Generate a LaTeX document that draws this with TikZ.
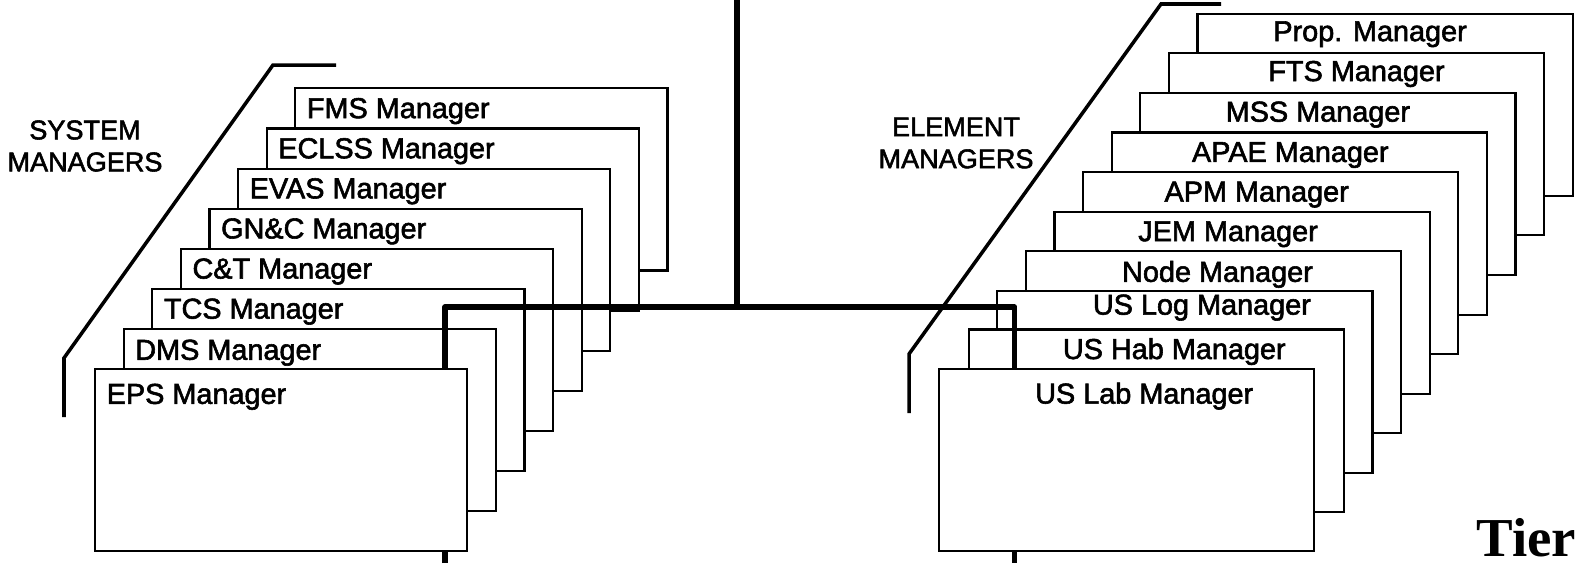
\documentclass[tikz,border=0pt]{standalone}
\usepackage{fontspec}
\newfontfamily\mgrsans[FakeBold=2]{Liberation Sans}
\newfontfamily\tierserif{Liberation Serif}
\usetikzlibrary{positioning}
\tikzset{
  mgrbox/.style={draw, line width=0.6pt, fill=white, anchor=north west,
    inner sep=0pt, minimum height=1.82cm},
  sysbox/.style={mgrbox, minimum width=3.72cm},
  elembox/.style={mgrbox, minimum width=3.75cm},
  mgrtext/.style={inner sep=0pt, font=\mgrsans\fontsize{8.2}{9.1}\selectfont},
  grouptext/.style={inner sep=0pt, align=center, font=\mgrsans\fontsize{7.7}{9.1}\selectfont},
  bracket/.style={line width=1pt, line join=miter},
  bus/.style={line width=1.6pt, line join=round}
}
\begin{document}
\begin{tikzpicture}[x=0.01cm, y=-0.01cm]
  \useasboundingbox (0,0) rectangle (1577,563);
  % system managers, back to front
  \node[sysbox] (fms) at (294.2,87.3) {};
  \node[mgrtext, below right=0.10cm and 0.12cm of fms.north west] (fmst) {FMS Manager};
  \node[sysbox] (eclss) at (265.6,127.4) {};
  \node[mgrtext, below right=0.10cm and 0.12cm of eclss.north west] (eclsst) {ECLSS Manager};
  \node[sysbox] (evas) at (237,167.5) {};
  \node[mgrtext, below right=0.10cm and 0.12cm of evas.north west] (evast) {EVAS Manager};
  \node[sysbox] (gnc) at (208.4,207.6) {};
  \node[mgrtext, below right=0.10cm and 0.12cm of gnc.north west] (gnct) {GN\&C Manager};
  \node[sysbox] (ct) at (179.8,247.7) {};
  \node[mgrtext, below right=0.10cm and 0.12cm of ct.north west] (ctt) {C\&T Manager};
  \node[sysbox] (tcs) at (151.2,287.8) {};
  \node[mgrtext, below right=0.10cm and 0.12cm of tcs.north west] (tcst) {TCS Manager};
  \node[sysbox] (dms) at (122.6,327.9) {};
  \node[mgrtext, below right=0.11cm and 0.12cm of dms.north west] (dmst) {DMS Manager};
  % element managers, back to front
  \node[elembox] (prop) at (1196.4,12.6) {};
  \node[mgrtext, below=0.08cm of prop.north, xshift=-0.15cm] (propt) {Prop. Manager};
  \node[elembox] (fts) at (1167.8,52.2) {};
  \node[mgrtext, below=0.08cm of fts.north] (ftst) {FTS Manager};
  \node[elembox] (mss) at (1139.2,91.8) {};
  \node[mgrtext, below=0.09cm of mss.north, xshift=-0.10cm] (msst) {MSS Manager};
  \node[elembox] (apae) at (1110.6,131.4) {};
  \node[mgrtext, below=0.10cm of apae.north, xshift=-0.09cm] (apaet) {APAE Manager};
  \node[elembox] (apm) at (1082,171) {};
  \node[mgrtext, below=0.10cm of apm.north, xshift=-0.14cm] (apmt) {APM Manager};
  \node[elembox] (jem) at (1053.4,210.6) {};
  \node[mgrtext, below=0.10cm of jem.north, xshift=-0.14cm] (jemt) {JEM Manager};
  \node[elembox] (nodem) at (1024.8,250.2) {};
  \node[mgrtext, below=0.10cm of nodem.north, xshift=0.04cm] (nodemt) {Node Manager};
  \node[elembox] (uslog) at (996.2,289.8) {};
  \node[mgrtext, below=0.04cm of uslog.north, xshift=0.17cm] (uslogt) {US Log Manager};
  \node[elembox] (ushab) at (967.6,328.4) {};
  \node[mgrtext, below=0.09cm of ushab.north, xshift=0.18cm] (ushabt) {US Hab Manager};
  % bus behind the front boxes
  \coordinate (bustop) at (737,0);
  \coordinate (hub) at (737,307);
  \coordinate (busl) at (445,563);
  \coordinate (busr) at (1014.5,563);
  \draw[bus] (bustop) -- (hub);
  \draw[bus] (busl) |- (hub) -| (busr);
  % front boxes
  \node[sysbox] (eps) at (94,368) {};
  \node[mgrtext, below right=0.15cm and 0.12cm of eps.north west] (epst) {EPS Manager};
  \node[elembox] (uslab) at (937.5,368) {};
  \node[mgrtext, below=0.14cm of uslab.north, xshift=0.18cm] (uslabt) {US Lab Manager};
  % group brackets and titles
  \draw[bracket] (64,417) -- (64,358) -- (273,65) -- (336,65);
  \draw[bracket] (909,413) -- (909,354) -- (1161,4) -- (1221,4);
  \node[grouptext] (syslbl) at (85,146) {SYSTEM\\MANAGERS};
  \node[grouptext] (elemlbl) at (956,143) {ELEMENT\\MANAGERS};
  \node[inner sep=0pt, anchor=base west, font=\tierserif\bfseries\fontsize{15.6}{18}\selectfont] (tier) at (1476,556) {Tier};
\end{tikzpicture}
\end{document}
